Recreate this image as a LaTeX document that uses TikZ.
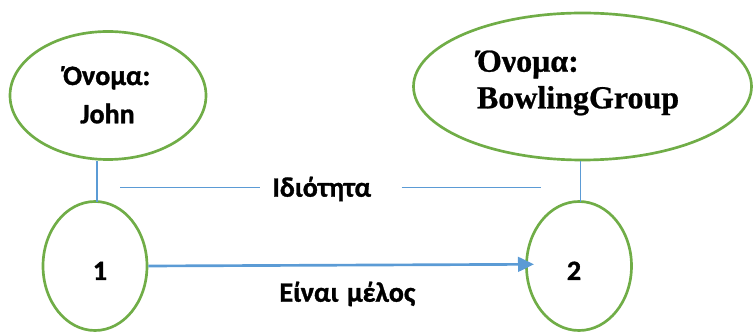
\documentclass[tikz,border=0pt]{standalone}
\usepackage{fontspec}
\setmainfont{Carlito}[BoldFont={Carlito Bold},BoldFeatures={FakeBold=1.2}]
\newfontfamily\serifgr{Liberation Serif}[BoldFont={Liberation Serif Bold},BoldFeatures={FakeBold=0.8}]
\usetikzlibrary{arrows.meta,shapes.geometric}
\definecolor{ogreen}{HTML}{70AD47}
\definecolor{oblue}{HTML}{5B9BD5}
\begin{document}
\begin{tikzpicture}[x=0.75pt,y=-0.75pt,
  oval/.style={draw=ogreen,line width=2pt,ellipse,inner sep=0pt},
  lbl/.style={inner sep=0pt,font=\fontsize{21}{25}\selectfont\bfseries},
  slbl/.style={inner sep=0pt,font=\serifgr\bfseries\fontsize{24}{28}\selectfont},
  thin/.style={draw=oblue,line width=1.2pt},
  rel/.style={draw=oblue,line width=2pt,-{Triangle[length=12pt,width=11pt]}}]
\useasboundingbox (0,0) rectangle (753,334);
% ellipses
\node[oval,minimum width=147pt,minimum height=96pt] (e1) at (108,95.5) {};
\node[oval,minimum width=253.5pt,minimum height=110.25pt] (e2) at (582.5,86.5) {};
\node[oval,minimum width=78pt,minimum height=96.75pt] (n1) at (95,266) {};
\node[oval,minimum width=78.75pt,minimum height=96.75pt] (n2) at (579,266) {};
% texts
\node[lbl,anchor=base] (t1a) at (106.7,85) {Όνομα:};
\node[lbl,anchor=base] (t1b) at (107.5,123.3) {John};
\node[slbl,anchor=base west] (t2a) at (476.7,71.7) {Όνομα:};
\node[slbl,anchor=base west] (t2b) at (476.7,108.3) {BowlingGroup};
\node[lbl,anchor=base] (k1) at (100,280) {1};
\node[lbl,anchor=base] (k2) at (574,280) {2};
\node[lbl,anchor=base] (prop) at (321.7,196.7) {Ιδιότητα};
\node[lbl,anchor=base] (mem) at (347.4,301.7) {Είναι\hspace{0.3em}μέλος};
% connectors
\coordinate (v1) at (96.7,202);
\coordinate (v2) at (580.3,202);
\draw[thin] (v1) -- (v1 |- e1.south);
\draw[thin] (v2) -- (v2 |- e2.south);
\coordinate (hA) at (120,187.7);
\coordinate (hB) at (260,187.7);
\coordinate (hC) at (401.7,187.7);
\coordinate (hD) at (540.7,187.7);
\draw[thin] (hA) -- (hB);
\draw[thin] (hC) -- (hD);
\coordinate (tip) at (534,264.3);
\draw[rel] (n1.east) -- (tip);
\end{tikzpicture}
\end{document}
